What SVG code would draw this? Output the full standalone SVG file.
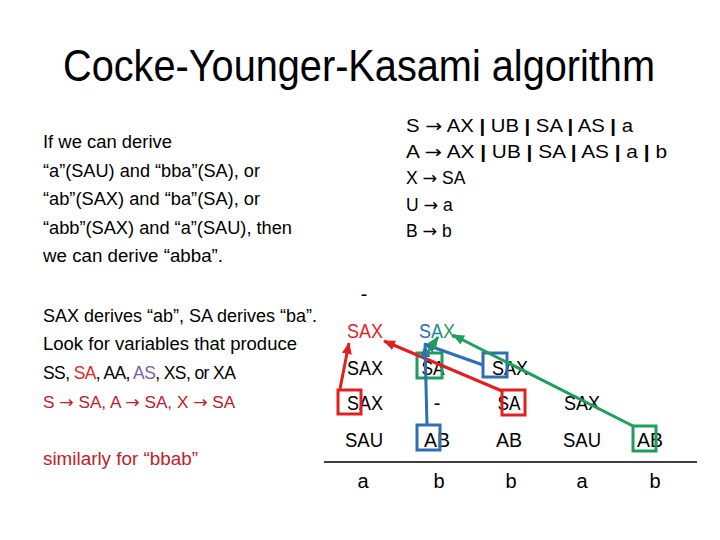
<svg xmlns="http://www.w3.org/2000/svg" width="720" height="540" viewBox="0 0 720 540">
<defs>
<style>
text{font-family:"Liberation Sans",Arial,sans-serif;fill:#000}
.title{font-size:44px}
.t{font-size:17.5px}
.g{font-size:17.5px}
.c{font-size:20px;text-anchor:middle}
.bar{font-weight:bold}
.arr{font-family:"DejaVu Sans",sans-serif}
.red{fill:#E02828}
.dred{fill:#C0202A}
.pur{fill:#7B5EA7}
.box{fill:none;stroke-width:3}
.ln{fill:none;stroke-width:3}
</style>
<marker id="ar" markerUnits="userSpaceOnUse" markerWidth="12" markerHeight="10" refX="11" refY="5" orient="auto"><path d="M0,0 L12,5 L0,10 Z" fill="#E02020"/></marker>
<marker id="ab" markerUnits="userSpaceOnUse" markerWidth="12" markerHeight="10" refX="11" refY="5" orient="auto"><path d="M0,0 L12,5 L0,10 Z" fill="#2E6EB5"/></marker>
<marker id="ag" markerUnits="userSpaceOnUse" markerWidth="12" markerHeight="10" refX="11" refY="5" orient="auto"><path d="M0,0 L12,5 L0,10 Z" fill="#1E9E5A"/></marker>
</defs>
<rect width="720" height="540" fill="#fff"/>
<text class="title" x="63" y="81" textLength="592" lengthAdjust="spacingAndGlyphs">Cocke-Younger-Kasami algorithm</text>

<g id="explain">
<text class="t" x="43" y="148" textLength="129" lengthAdjust="spacingAndGlyphs">If we can derive</text>
<text class="t" x="43" y="177" textLength="217" lengthAdjust="spacingAndGlyphs">“a”(SAU) and “bba”(SA), or</text>
<text class="t" x="43" y="205" textLength="217" lengthAdjust="spacingAndGlyphs">“ab”(SAX) and “ba”(SA), or</text>
<text class="t" x="43" y="234" textLength="249" lengthAdjust="spacingAndGlyphs">“abb”(SAX) and “a”(SAU), then</text>
<text class="t" x="43" y="262" textLength="180" lengthAdjust="spacingAndGlyphs">we can derive “abba”.</text>
</g>

<g id="notes">
<text class="t" x="43" y="322" textLength="274" lengthAdjust="spacingAndGlyphs">SAX derives “ab”, SA derives “ba”.</text>
<text class="t" x="43" y="350" textLength="254" lengthAdjust="spacingAndGlyphs">Look for variables that produce</text>
<text class="t" x="43" y="379" letter-spacing="-0.6">SS, <tspan class="red">SA</tspan>, AA, <tspan class="pur">AS</tspan>, XS, or XA</text>
<text class="dred" x="43" y="408" font-size="17.2">S <tspan class="arr">→</tspan> SA, A <tspan class="arr">→</tspan> SA, X <tspan class="arr">→</tspan> SA</text>
<text class="t dred" x="43" y="465" textLength="155" lengthAdjust="spacingAndGlyphs">similarly for “bbab”</text>
</g>

<g id="grammar">
<text class="g" x="406" y="132" textLength="227" lengthAdjust="spacingAndGlyphs">S <tspan class="arr">→</tspan> AX <tspan class="bar">|</tspan> UB <tspan class="bar">|</tspan> SA <tspan class="bar">|</tspan> AS <tspan class="bar">|</tspan> a</text>
<text class="g" x="406" y="158" textLength="261" lengthAdjust="spacingAndGlyphs">A <tspan class="arr">→</tspan> AX <tspan class="bar">|</tspan> UB <tspan class="bar">|</tspan> SA <tspan class="bar">|</tspan> AS <tspan class="bar">|</tspan> a <tspan class="bar">|</tspan> b</text>
<text class="g" x="406" y="184">X <tspan class="arr">→</tspan> SA</text>
<text class="g" x="406" y="211">U <tspan class="arr">→</tspan> a</text>
<text class="g" x="406" y="237">B <tspan class="arr">→</tspan> b</text>
</g>

<g id="table">
<text class="c" x="364" y="301">-</text>
<text class="c red" x="365" y="338" textLength="36" lengthAdjust="spacingAndGlyphs">SAX</text>
<text class="c" x="437" y="338" textLength="36" lengthAdjust="spacingAndGlyphs"><tspan fill="#2E6EB5">S</tspan><tspan fill="#24869A">A</tspan><tspan fill="#1E9E5A">X</tspan></text>
<text class="c" x="365" y="375" textLength="36" lengthAdjust="spacingAndGlyphs">SAX</text>
<text class="c" x="433" y="375" textLength="23" lengthAdjust="spacingAndGlyphs">SA</text>
<text class="c" x="510" y="375" textLength="36" lengthAdjust="spacingAndGlyphs">SAX</text>
<text class="c" x="365" y="410" textLength="36" lengthAdjust="spacingAndGlyphs">SAX</text>
<text class="c" x="437" y="410">-</text>
<text class="c" x="509" y="410" textLength="23" lengthAdjust="spacingAndGlyphs">SA</text>
<text class="c" x="582" y="410" textLength="36" lengthAdjust="spacingAndGlyphs">SAX</text>
<text class="c" x="364" y="447" textLength="38" lengthAdjust="spacingAndGlyphs">SAU</text>
<text class="c" x="437" y="447" textLength="26" lengthAdjust="spacingAndGlyphs">AB</text>
<text class="c" x="509" y="447" textLength="26" lengthAdjust="spacingAndGlyphs">AB</text>
<text class="c" x="582" y="447" textLength="38" lengthAdjust="spacingAndGlyphs">SAU</text>
<text class="c" x="650" y="447" textLength="26" lengthAdjust="spacingAndGlyphs">AB</text>
<line x1="324" y1="462" x2="697" y2="462" stroke="#000" stroke-width="1.3"/>
<text class="c" x="363" y="488">a</text>
<text class="c" x="439" y="488">b</text>
<text class="c" x="511" y="488">b</text>
<text class="c" x="582" y="488">a</text>
<text class="c" x="655" y="488">b</text>
</g>

<g id="boxes">
<rect class="box" x="338" y="390" width="23" height="24" stroke="#E02020"/>
<rect class="box" x="502" y="390" width="23" height="25" stroke="#E02020"/>
<rect class="box" x="417" y="353" width="25" height="25" stroke="#1E9E5A"/>
<rect class="box" x="483" y="353" width="24" height="24" stroke="#2E6EB5"/>
<rect class="box" x="417" y="425" width="23" height="25" stroke="#2E6EB5"/>
<rect class="box" x="633" y="426" width="23" height="25" stroke="#1E9E5A"/>
</g>

<g id="connectors">
<line class="ln" x1="340" y1="389" x2="349" y2="343" stroke="#E02020" marker-end="url(#ar)"/>
<line class="ln" x1="502" y1="391" x2="384" y2="341" stroke="#E02020" marker-end="url(#ar)"/>
<line class="ln" x1="483" y1="365" x2="424" y2="344" stroke="#2E6EB5" marker-end="url(#ab)"/>
<line class="ln" x1="427" y1="425" x2="425" y2="346" stroke="#2E6EB5" marker-end="url(#ab)"/>
<line class="ln" x1="427" y1="353" x2="438" y2="337" stroke="#1E9E5A" marker-end="url(#ag)"/>
<line class="ln" x1="633" y1="426" x2="453" y2="335" stroke="#1E9E5A" marker-end="url(#ag)"/>
</g>
</svg>
